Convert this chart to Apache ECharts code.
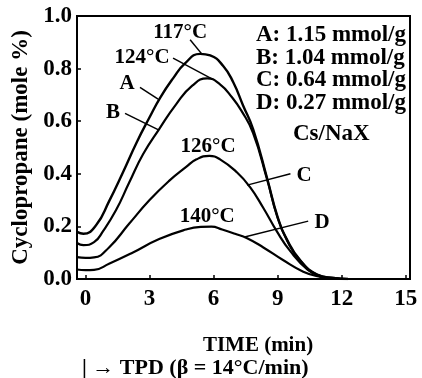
<!DOCTYPE html>
<html>
<head>
<meta charset="utf-8">
<script src="https://cdn.jsdelivr.net/npm/echarts@6/dist/echarts.min.js"></script>
<style>
  html, body { margin: 0; padding: 0; background: #fff; }
  #chart { width: 422px; height: 378px; }
</style>
</head>
<body>
<div id="chart"></div>
<script>
// time (min), cyclopropane (mole %)
const curveA = [[-0.4,0.179],[-0.1,0.172],[0.5,0.205],[1.1,0.295],[1.75,0.405],[2.4,0.52],[3.0,0.615],[3.5,0.69],[4.1,0.763],[4.66,0.82],[5.37,0.856],[5.84,0.85],[6.45,0.81],[6.92,0.748],[7.38,0.66],[7.85,0.57],[8.5,0.385],[9.0,0.235],[9.45,0.148],[10.05,0.072],[10.85,0.017],[11.6,0.004],[12.3,0]];
const curveB = [[-0.4,0.137],[-0.1,0.129],[0.4,0.14],[0.82,0.182],[1.43,0.262],[2.04,0.366],[2.7,0.475],[3.45,0.57],[4.25,0.665],[5.0,0.735],[5.7,0.763],[6.3,0.74],[6.87,0.69],[7.3,0.64],[7.85,0.555],[8.5,0.38],[9.0,0.232],[9.45,0.145],[10.05,0.07],[10.85,0.016],[11.6,0.004],[12.3,0]];
const curveC = [[-0.4,0.083],[0,0.08],[0.4,0.082],[1.1,0.12],[2.04,0.21],[3.0,0.30],[3.9,0.372],[4.7,0.425],[5.2,0.455],[5.8,0.468],[6.3,0.455],[7.1,0.405],[7.7,0.35],[8.33,0.27],[8.97,0.18],[9.6,0.105],[10.4,0.036],[11.0,0.01],[11.6,0.002],[12.3,0]];
const curveD = [[-0.4,0.036],[0,0.034],[0.4,0.035],[1.1,0.058],[2.2,0.10],[3.45,0.152],[4.7,0.188],[5.4,0.198],[5.9,0.199],[6.4,0.188],[7.0,0.172],[7.57,0.155],[8.33,0.12],[9.25,0.072],[10.2,0.028],[11.0,0.008],[11.6,0.002],[12.3,0]];

const xTicks = [0, 3, 6, 9, 12, 15];
const legendLines = ['A: 1.15 mmol/g', 'B: 1.04 mmol/g', 'C: 0.64 mmol/g', 'D: 0.27 mmol/g'];

// annotation texts and leader lines, in data units
const labelTexts = ['117°C', '124°C', 'A', 'B', '126°C', '140°C', 'C', 'D'];
const labelCoords = [[4.43,0.937],[2.65,0.842],[1.95,0.744],[1.29,0.634],[5.74,0.505],[5.7,0.239],[10.24,0.395],[11.08,0.216]];
const leaders = [
  [[4.9,0.91],[5.46,0.854]],
  [[4.1,0.84],[5.9,0.762]],
  [[2.55,0.729],[3.4,0.684]],
  [[1.85,0.63],[3.42,0.567]],
  [[7.57,0.357],[9.6,0.4]],
  [[7.45,0.16],[10.43,0.22]]
];

const font = 'Liberation Serif';
const chart = echarts.init(document.getElementById('chart'));

const curveSeries = (name, data, width) => ({
  name, type: 'line', data, smooth: 0.5, showSymbol: false, symbol: 'none',
  lineStyle: { color: '#000', width }, z: 3
});

chart.setOption({
  animation: false,
  grid: { left: 77, right: 12, top: 16, bottom: 99, show: true, borderColor: '#000', borderWidth: 2 },
  xAxis: {
    type: 'value', min: -0.4, max: 15.2,
    name: 'TIME (min)', nameLocation: 'middle', nameGap: 56,
    nameTextStyle: { fontFamily: font, fontWeight: 'bold', fontSize: 21, color: '#000', padding: [0, 0, 0, 29] },
    axisLine: { onZero: false, lineStyle: { color: '#000', width: 2 } },
    axisTick: { inside: true, length: 4, customValues: xTicks, lineStyle: { color: '#000', width: 1.5 } },
    axisLabel: { customValues: xTicks, margin: 9, fontFamily: font, fontWeight: 'bold', fontSize: 23, color: '#000' },
    splitLine: { show: false }
  },
  yAxis: {
    type: 'value', min: 0, max: 1, interval: 0.2,
    name: 'Cyclopropane (mole %)', nameLocation: 'middle', nameGap: 44,
    nameTextStyle: { fontFamily: font, fontWeight: 'bold', fontSize: 23, color: '#000' },
    axisLine: { onZero: false, lineStyle: { color: '#000', width: 2 } },
    axisTick: { inside: true, length: 4, lineStyle: { color: '#000', width: 1.5 } },
    axisLabel: { margin: 5, fontFamily: font, fontWeight: 'bold', fontSize: 23, color: '#000', formatter: v => v.toFixed(1) },
    splitLine: { show: false }
  },
  series: [
    curveSeries('A', curveA, 2.4),
    curveSeries('B', curveB, 2.2),
    curveSeries('C', curveC, 2.2),
    curveSeries('D', curveD, 2.2),
    {
      name: 'annotations', type: 'line', data: [], z: 4,
      markLine: {
        silent: true, symbol: 'none', animation: false,
        label: { show: false },
        lineStyle: { color: '#000', width: 1.5, type: 'solid' },
        data: leaders.map(([a, b]) => [{ coord: a }, { coord: b }])
      },
      markPoint: {
        silent: true, symbol: 'circle', symbolSize: 0, animation: false,
        label: { show: true, position: 'inside', fontFamily: font, fontWeight: 'bold', fontSize: 21, color: '#000' },
        data: labelTexts.map((t, i) => ({ coord: labelCoords[i], value: t, label: { formatter: t } }))
      }
    }
  ],
  graphic: [
    {
      type: 'text', right: 16, top: 24,
      style: { text: legendLines.join('\n'), lineHeight: 22.5, align: 'right', fontFamily: font, fontWeight: 'bold', fontSize: 23, fill: '#000' }
    },
    {
      type: 'text', left: 293, top: 123,
      style: { text: 'Cs/NaX', fontFamily: font, fontWeight: 'bold', fontSize: 23, fill: '#000' }
    },
    {
      type: 'text', left: 82, top: 357,
      style: { text: '| → TPD (β = 14°C/min)', fontFamily: font, fontWeight: 'bold', fontSize: 22, fill: '#000' }
    }
  ]
});
</script>
</body>
</html>
